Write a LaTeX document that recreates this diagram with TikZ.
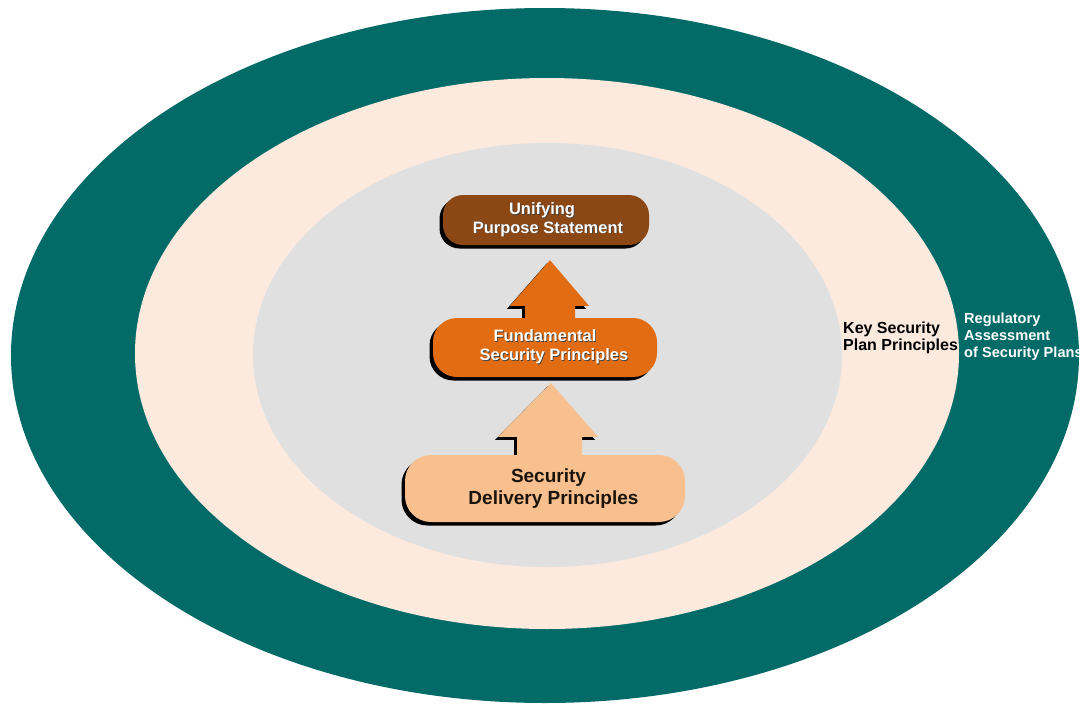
\documentclass[tikz,border=0pt]{standalone}
\usepackage{fontspec}
\setmainfont{Liberation Sans}
\usetikzlibrary{calc,shadows}
\definecolor{tealC}{RGB}{2,106,103}
\definecolor{peachC}{RGB}{252,234,223}
\definecolor{grayC}{RGB}{224,224,224}
\definecolor{brownC}{RGB}{139,72,20}
\definecolor{orangeC}{RGB}{226,108,18}
\definecolor{lightC}{RGB}{249,192,143}
\definecolor{darkT}{RGB}{28,20,12}
\newcommand{\sht}[1]{\leavevmode\rlap{\kern0.8pt\raisebox{-0.8pt}{\textcolor{black!75}{#1}}}#1}
\pgfdeclarelayer{bg}
\pgfdeclarelayer{arr}
\pgfsetlayers{bg,arr,main}
\begin{document}
\begin{tikzpicture}[x=1pt,y=-1pt,
  stagebox/.style={rectangle, align=center, inner sep=0pt,
    drop shadow={shadow xshift=-3.5pt, shadow yshift=-3.5pt, opacity=1, fill=black}},
  arrowshadow/.style={drop shadow={shadow xshift=-3pt, shadow yshift=-3pt, opacity=1, fill=black}},
  ringlabel/.style={anchor=north west, align=left, inner sep=0pt, font=\bfseries}
]
\useasboundingbox (0,0) rectangle (1088,707);
\begin{pgfonlayer}{bg}
\fill[white] (0,0) rectangle (1088,707);
\fill[tealC] (545,355.5) ellipse [x radius=534pt, y radius=347.5pt];
\fill[peachC] (547,353.5) ellipse [x radius=412pt, y radius=275.5pt];
\fill[grayC] (547.5,355) ellipse [x radius=294.5pt, y radius=212pt];
\end{pgfonlayer}

\node[stagebox, fill=brownC, rounded corners=20pt, minimum width=206pt, minimum height=50pt,
  text=white, font=\fontsize{16.5}{18.5}\selectfont\bfseries] (top) at (546,220)
  {\sht{Unifying}\hspace*{8pt}\\ \hspace*{4pt}\sht{Purpose Statement}};
\node[stagebox, fill=orangeC, rounded corners=24pt, minimum width=224pt, minimum height=59pt,
  text=white, font=\fontsize{16.5}{19}\selectfont\bfseries] (mid) at (545,347.5)
  {\sht{Fundamental}\\ \hspace*{18pt}\sht{Security Principles}};
\node[stagebox, fill=lightC, rounded corners=26pt, minimum width=280pt, minimum height=67pt,
  text=darkT, font=\fontsize{19}{22}\selectfont\bfseries] (bot) at (545,488.5)
  {\hspace*{7pt}Security\\ \hspace*{17pt}Delivery Principles};

\begin{pgfonlayer}{arr}
\fill[orangeC, arrowshadow] ($(mid.north)+(-20,8)$) -- ($(mid.north)+(-20,-12)$)
  -- ($(mid.north)+(-35,-12)$) -- ($(top.south)+(4,15)$) -- ($(mid.north)+(44,-12)$)
  -- ($(mid.north)+(30,-12)$) -- ($(mid.north)+(30,8)$) -- cycle;
\fill[lightC, arrowshadow] ($(bot.north)+(-28,8)$) -- ($(bot.north)+(-28,-18)$)
  -- ($(bot.north)+(-47,-18)$) -- ($(mid.south)+(6,6)$) -- ($(bot.north)+(53,-18)$)
  -- ($(bot.north)+(37,-18)$) -- ($(bot.north)+(37,8)$) -- cycle;
\end{pgfonlayer}

\node[ringlabel, text=black, font=\fontsize{16}{17}\selectfont\bfseries] (key) at (843,321.5)
  {Key Security\\Plan Principles};
\node[ringlabel, text=white, font=\fontsize{14.6}{17}\selectfont\bfseries] (reg) at (964,312.5)
  {Regulatory\\Assessment\\of Security Plans};
\end{tikzpicture}
\end{document}
